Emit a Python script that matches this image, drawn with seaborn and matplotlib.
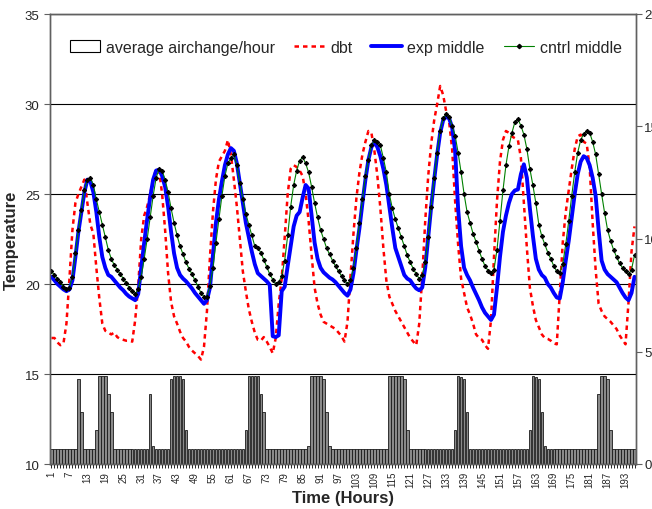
import numpy as np
import pandas as pd
import matplotlib
matplotlib.use("Agg")
import matplotlib.pyplot as plt
import seaborn as sns
from matplotlib.patches import Patch
from matplotlib.lines import Line2D

# hourly readings, hours 1..196
hours = np.arange(1, 197)

dbt = [
    17.0, 17.0, 16.75, 16.6, 16.7, 17.8, 20.3, 23.0, 24.5, 25.0,
    25.4, 25.8, 24.5, 23.3, 22.8, 20.9, 19.2, 17.8, 17.4, 17.3,
    17.2, 17.3, 17.05, 16.95, 16.9, 16.85, 16.85, 16.8, 18.0, 19.9,
    22.5, 23.8, 24.3, 25.0, 25.8, 26.4, 26.3, 25.0, 23.0, 20.6,
    19.0, 18.2, 17.8, 17.35, 17.0, 16.8, 16.5, 16.3, 16.15, 16.0,
    15.8, 16.5, 18.5, 21.5, 24.0, 25.8, 26.8, 27.1, 27.4, 28.0,
    27.2, 25.8, 24.3, 22.5, 20.7, 19.6, 18.6, 17.9, 17.3, 16.9,
    16.85, 17.05, 16.8, 16.5, 16.15, 17.0, 18.9, 20.3, 22.6, 25.0,
    26.4, 26.6, 26.5, 26.3, 26.0, 25.0, 23.5, 21.6, 19.8, 18.9,
    18.3, 17.9, 17.8, 17.7, 17.6, 17.5, 17.3, 17.1, 16.8, 17.9,
    20.4, 22.8, 24.8, 26.2, 27.2, 27.9, 28.5, 28.4, 27.4, 26.0,
    24.2, 22.0, 20.2, 19.3, 18.9, 18.5, 18.2, 17.9, 17.6, 17.3,
    17.0, 16.8, 16.6, 17.8, 20.4, 23.5, 26.0, 27.8, 29.1, 30.0,
    31.0, 30.5, 29.6, 29.0, 27.5, 24.6, 22.2, 20.3, 19.5, 18.7,
    18.3, 17.8, 17.2, 17.0, 16.9, 16.6, 16.4, 18.0, 21.5, 24.6,
    26.8, 28.0, 28.5, 28.4, 28.2, 28.1, 28.0, 27.0, 24.5, 22.0,
    19.8, 18.8, 18.0, 17.6, 17.2, 17.0, 16.95, 16.85, 16.7, 16.65,
    19.5, 22.3, 24.0, 25.2, 26.4, 27.5, 28.2, 28.3, 27.9, 27.8,
    26.5, 23.4, 20.8, 18.9, 18.5, 18.2, 18.05, 17.9, 17.7, 17.5,
    17.15, 16.9, 16.65, 19.0, 21.8, 23.2,
]

exp_middle = [
    20.4, 20.2, 20.0, 19.85, 19.7, 19.6, 19.7, 20.2, 21.5, 22.9,
    24.0, 25.1, 25.8, 25.7, 25.1, 24.0, 22.6, 21.5, 20.9, 20.5,
    20.4, 20.2, 20.0, 19.8, 19.65, 19.45, 19.3, 19.2, 19.1, 19.45,
    20.9, 22.3, 23.6, 24.8, 25.8, 26.3, 26.35, 26.0, 25.4, 24.3,
    22.9, 21.7, 20.9, 20.5, 20.3, 20.15, 19.95, 19.75, 19.5, 19.3,
    19.1, 18.9, 19.1, 19.8, 21.6, 23.4, 24.7, 25.7, 26.6, 27.2,
    27.55, 27.4, 26.7, 25.6, 24.5, 23.4, 22.6, 21.8, 21.1, 20.6,
    20.45, 20.3, 20.15, 19.95, 17.1, 17.05, 17.15, 19.6, 19.85, 21.0,
    22.1, 23.2, 23.8, 24.0, 24.8, 25.5, 25.3, 23.8, 22.3, 21.4,
    20.9, 20.65, 20.5, 20.35, 20.25, 20.1, 19.9, 19.7, 19.5, 19.35,
    19.7, 20.6, 21.9, 23.1, 24.5, 25.8, 26.9, 27.6, 27.9, 27.6,
    27.1, 26.4, 25.5, 24.3, 23.1, 22.0, 21.5, 21.0, 20.5, 20.3,
    20.2, 19.95, 19.75, 19.65, 19.8, 20.9, 22.6, 24.3, 25.8, 27.2,
    28.4, 29.1, 29.3, 29.2, 28.7, 27.4, 24.2, 22.1, 20.9, 20.5,
    20.2, 19.8, 19.45, 19.1, 18.7, 18.4, 18.2, 18.0, 18.3, 19.8,
    21.5, 22.9, 23.8, 24.5, 25.0, 25.2, 25.25, 26.1, 26.65, 25.9,
    24.2, 22.7, 21.4, 20.8, 20.5, 20.35, 20.0, 19.8, 19.5, 19.25,
    19.2, 20.1, 21.3, 22.4, 23.7, 25.0, 26.1, 26.8, 27.1, 27.0,
    26.6, 25.9, 24.9, 23.0, 21.3, 20.8, 20.55, 20.4, 20.25, 20.1,
    19.8, 19.5, 19.25, 19.1, 19.5, 20.4,
]

cntrl_middle = [
    20.7, 20.5, 20.3, 20.1, 19.85, 19.72, 19.8, 20.4, 21.7, 23.0,
    24.1, 25.2, 25.8, 25.9, 25.5, 24.7, 24.0, 23.3, 22.6, 21.9,
    21.4, 21.05, 20.8, 20.55, 20.3, 20.05, 19.8, 19.6, 19.45, 19.7,
    20.4, 21.4, 22.5, 23.7, 24.9, 25.9, 26.4, 26.3, 25.8, 25.1,
    24.2, 23.4, 22.7, 22.1, 21.65, 21.2, 20.85, 20.55, 20.2, 19.85,
    19.5, 19.3, 19.3, 19.9, 20.9, 22.3, 23.6, 24.9, 26.0, 26.7,
    27.0, 27.2, 26.6, 25.6, 24.7, 23.9, 23.3, 22.7, 22.1, 22.0,
    21.75, 21.35, 20.95, 20.55, 20.25, 20.0, 20.1, 20.45, 21.3, 22.7,
    24.3, 25.5, 26.3, 26.85, 27.05, 26.7, 26.2, 25.4, 24.5, 23.7,
    23.0, 22.5, 22.0, 21.65, 21.3, 21.0, 20.7, 20.45, 20.2, 20.0,
    20.2, 20.9, 22.0, 23.4, 24.7, 26.0, 26.9, 27.7, 28.0, 27.9,
    27.7, 27.0, 26.2, 25.0, 24.2, 23.6, 23.1, 22.6, 22.1, 21.6,
    21.2, 20.85, 20.55, 20.3, 20.5, 21.2, 22.6, 24.3, 25.9, 27.3,
    28.5, 29.2, 29.45, 29.3, 28.8, 28.25, 27.3, 26.2, 25.0, 24.0,
    23.4, 22.8, 22.35, 21.85, 21.4, 21.0, 20.75, 20.6, 20.8, 21.9,
    23.5, 25.2, 26.6, 27.65, 28.4, 29.0, 29.15, 28.8, 28.3, 27.5,
    26.4, 25.5, 24.5, 23.3, 22.65, 22.2, 21.75, 21.4, 21.0, 20.7,
    20.6, 21.1, 22.2, 23.5, 24.9, 26.2, 27.3, 28.0, 28.35, 28.5,
    28.4, 27.9, 27.2, 26.1, 25.0, 23.95, 23.0, 22.4, 21.9, 21.5,
    21.15, 20.9, 20.7, 20.55, 20.8, 21.6,
]

airchange = [
    0.67, 0.67, 0.67, 0.67, 0.67, 0.67, 0.67, 0.67, 0.67, 3.8,
    2.3, 0.67, 0.67, 0.67, 0.67, 1.5, 3.9, 3.9, 3.9, 3.1,
    2.3, 0.67, 0.67, 0.67, 0.67, 0.67, 0.67, 0.67, 0.67, 0.67,
    0.67, 0.67, 0.67, 3.1, 0.78, 0.67, 0.67, 0.67, 0.67, 0.67,
    3.8, 3.9, 3.9, 3.9, 3.8, 1.5, 0.67, 0.67, 0.67, 0.67,
    0.67, 0.67, 0.67, 0.67, 0.67, 0.67, 0.67, 0.67, 0.67, 0.67,
    0.67, 0.67, 0.67, 0.67, 0.67, 1.5, 3.9, 3.9, 3.9, 3.9,
    3.1, 2.3, 0.67, 0.67, 0.67, 0.67, 0.67, 0.67, 0.67, 0.67,
    0.67, 0.67, 0.67, 0.67, 0.67, 0.67, 0.78, 3.9, 3.9, 3.9,
    3.9, 3.8, 2.3, 0.78, 0.67, 0.67, 0.67, 0.67, 0.67, 0.67,
    0.67, 0.67, 0.67, 0.67, 0.67, 0.67, 0.67, 0.67, 0.67, 0.67,
    0.67, 0.67, 0.67, 3.9, 3.9, 3.9, 3.9, 3.9, 3.8, 1.5,
    0.67, 0.67, 0.67, 0.67, 0.67, 0.67, 0.67, 0.67, 0.67, 0.67,
    0.67, 0.67, 0.67, 0.67, 0.67, 1.5, 3.9, 3.85, 3.8, 2.3,
    0.67, 0.67, 0.67, 0.67, 0.67, 0.67, 0.67, 0.67, 0.67, 0.67,
    0.67, 0.67, 0.67, 0.67, 0.67, 0.67, 0.67, 0.67, 0.67, 0.67,
    1.5, 3.9, 3.85, 3.8, 2.3, 0.78, 0.67, 0.67, 0.67, 0.67,
    0.67, 0.67, 0.67, 0.67, 0.67, 0.67, 0.67, 0.67, 0.67, 0.67,
    0.67, 0.67, 0.67, 3.1, 3.9, 3.9, 3.8, 1.5, 0.67, 0.67,
    0.67, 0.67, 0.67, 0.67, 0.67, 0.67,
]

for name, arr in [("dbt", dbt), ("exp", exp_middle), ("cntrl", cntrl_middle), ("ach", airchange)]:
    assert len(arr) == len(hours), (name, len(arr))

df = pd.DataFrame({
    "hour": hours, "dbt": dbt, "exp": exp_middle,
    "cntrl": cntrl_middle, "ach": airchange,
})

sns.set_style("white")
plt.rcParams["font.family"] = ["Liberation Sans", "DejaVu Sans"]
SPINE = "#606060"

fig = plt.figure(figsize=(6.52, 5.10), dpi=100)
ax = fig.add_axes([50 / 652, 45 / 510, 586 / 652, 450 / 510])
ax2 = ax.twinx()

# air change bars on the secondary axis (behind the lines)
sns.barplot(data=df, x="hour", y="ach", native_scale=True, color="#8a8a8a",
            saturation=1, edgecolor="#1a1a1a", linewidth=0.6, width=0.85,
            errorbar=None, ax=ax2)

sns.lineplot(data=df, x="hour", y="dbt", ax=ax, color="#FF0000", lw=1.8,
             linestyle=(0, (1.8, 1.6)))
sns.lineplot(data=df, x="hour", y="exp", ax=ax, color="#0000FF", lw=2.8)
sns.lineplot(data=df, x="hour", y="cntrl", ax=ax, color="#008000", lw=0.8,
             marker="D", markersize=2.2, markerfacecolor="black",
             markeredgecolor="black")

ax.set_zorder(ax2.get_zorder() + 1)
ax.patch.set_visible(False)

ax.set_xlim(0.5, 196.5)
ax.set_ylim(10, 35)
ax2.set_ylim(0, 20)
ax.set_yticks([10, 15, 20, 25, 30, 35])
ax2.set_yticks([0, 5, 10, 15, 20])

ax.set_xticks(hours)
ax.set_xticklabels([str(h) if (h - 1) % 6 == 0 else "" for h in hours],
                   rotation=90, fontsize=7)
ax.tick_params(axis="x", bottom=True, length=3, width=0.6, pad=2, color="black")
ax.tick_params(axis="y", left=True, length=4, width=0.8, labelsize=9.5, color=SPINE)
ax2.tick_params(axis="y", right=True, length=4, width=0.8, labelsize=9.5,
                pad=2, color=SPINE)

ax.grid(axis="y", color="black", lw=0.8)
ax.grid(axis="x", visible=False)
ax2.grid(False)

for a in (ax, ax2):
    for s in a.spines.values():
        s.set_color(SPINE)
        s.set_linewidth(1.0)

ax.set_ylabel("Temperature", fontsize=12, fontweight="bold")
ax.set_xlabel("Time (Hours)", fontsize=12, fontweight="bold", labelpad=2)
ax2.set_ylabel("")
ax2.set_xlabel("")

handles = [
    Patch(facecolor="white", edgecolor="black", linewidth=0.8),
    Line2D([], [], color="#FF0000", lw=1.8, linestyle=(0, (1.8, 1.6))),
    Line2D([], [], color="#0000FF", lw=2.8),
    Line2D([], [], color="#008000", lw=0.8, marker="D", markersize=2.2,
           markerfacecolor="black", markeredgecolor="black"),
]
labels = ["average airchange/hour", "dbt", "exp middle", "cntrl middle"]
ax.legend(handles, labels, loc="upper center", bbox_to_anchor=(0.505, 0.975),
          ncol=4, frameon=False, fontsize=11.5, handlelength=1.9,
          handletextpad=0.35, columnspacing=1.2)

fig.savefig("out.png", dpi=100)
